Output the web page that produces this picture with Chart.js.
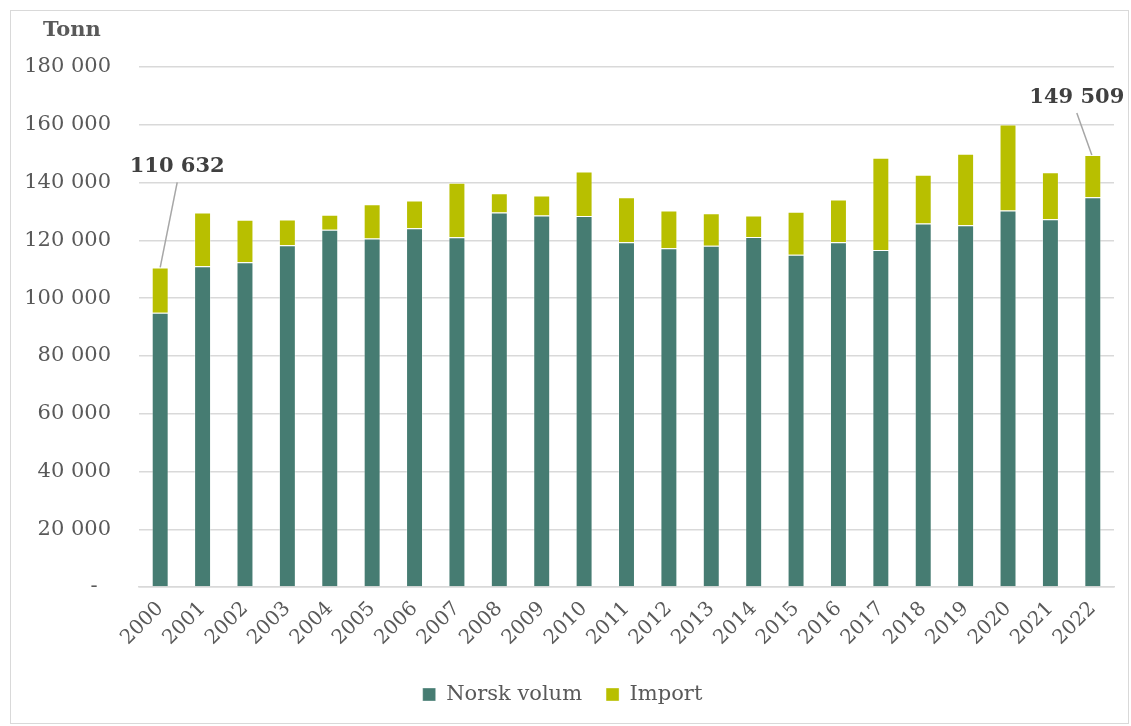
<!DOCTYPE html>
<html lang="no">
<head>
<meta charset="UTF-8">
<title>Norsk volum og import</title>
<script src="https://cdn.jsdelivr.net/npm/chart.js"></script>
<style>
    html, body {
        margin: 0;
        padding: 0;
        background: #ffffff;
    }
    .frame {
        position: absolute;
        left: 10px;
        top: 10px;
        width: 1119px;
        height: 714px;
        border: 1.5px solid #d9d9d9;
        box-sizing: border-box;
    }
</style>
</head>
<body>
<div class="frame">
    <canvas id="volumChart"></canvas>
</div>
<script>
    // Data (tonn)
    const years = ['2000', '2001', '2002', '2003', '2004', '2005', '2006', '2007', '2008', '2009', '2010', '2011',
        '2012', '2013', '2014', '2015', '2016', '2017', '2018', '2019', '2020', '2021', '2022'];
    const norskVolum = [94900, 111000, 112400, 118300, 123700, 120600, 124200, 121100, 129600, 128600, 128400, 119300,
        117300, 118100, 121200, 115000, 119300, 116700, 125800, 125200, 130300, 127300, 134900];
    const importVolum = [15732, 18600, 14700, 8900, 5200, 11900, 9600, 18800, 6700, 6900, 15400, 15600,
        13000, 11300, 7400, 14900, 14800, 31900, 16900, 24800, 29800, 16300, 14609];
    const yTicks = [0, 20000, 40000, 60000, 80000, 100000, 120000, 140000, 160000, 180000];
    const markedYears = ['2000', '2022'];

    const FONT = "'DejaVu Serif', Georgia, serif";
    const GREY = '#595959';

    function spaced(n) {
        return Math.round(n).toString().replace(/\B(?=(\d{3})+(?!\d))/g, ' ');
    }

    // Title "Tonn" and the two total labels with leader lines
    const labelPlugin = {
        id: 'labels',
        afterDraw(chart) {
            const ctx = chart.ctx;
            ctx.save();
            ctx.fillStyle = GREY;
            ctx.font = "bold 21px " + FONT;
            ctx.textAlign = 'center';
            ctx.textBaseline = 'middle';
            ctx.fillText('Tonn', 61, 20);

            const meta = chart.getDatasetMeta(1);
            const offsets = { '2000': [17, -85, 0, -16], '2022': [-16, -42, 0, -16] };
            markedYears.forEach(y => {
                const i = years.indexOf(y);
                const bar = meta.data[i];
                const total = norskVolum[i] + importVolum[i];
                const o = offsets[y];
                const x0 = bar.x + (y === '2000' ? 0 : -1), y0 = bar.y;
                const x1 = bar.x + o[0], y1 = bar.y + o[1];
                ctx.strokeStyle = '#a6a6a6';
                ctx.lineWidth = 1.5;
                ctx.beginPath();
                ctx.moveTo(x0, y0);
                ctx.lineTo(x1, y1);
                ctx.stroke();
                ctx.fillStyle = '#404040';
                ctx.font = "bold 21px " + FONT;
                ctx.fillText(spaced(total), x1, y1 + o[3]);
            });
            ctx.restore();
        }
    };

    const ctxVolum = document.getElementById('volumChart').getContext('2d');
    new Chart(ctxVolum, {
        type: 'bar',
        data: {
            labels: years,
            datasets: [{
                label: 'Norsk volum',
                data: norskVolum,
                backgroundColor: '#467c72',
                borderColor: 'rgba(255,255,255,0.35)',
                borderWidth: 1,
                categoryPercentage: 1,
                barPercentage: 0.4
            }, {
                label: 'Import',
                data: importVolum,
                backgroundColor: '#b8bf00',
                borderColor: 'rgba(255,255,255,0.35)',
                borderWidth: 1,
                categoryPercentage: 1,
                barPercentage: 0.4
            }]
        },
        options: {
            responsive: true,
            maintainAspectRatio: false,
            animation: false,
            layout: {
                padding: { top: 56, right: 14, bottom: 8, left: 0 }
            },
            scales: {
                x: {
                    stacked: true,
                    grid: { display: false, drawTicks: false },
                    border: { color: '#d9d9d9', width: 1.5 },
                    ticks: {
                        color: GREY,
                        font: { family: FONT, size: 20 },
                        minRotation: 45,
                        maxRotation: 45,
                        padding: 10
                    }
                },
                y: {
                    stacked: true,
                    min: 0,
                    max: 180000,
                    afterFit(scale) { scale.width = 128; },
                    afterBuildTicks(scale) { scale.ticks = yTicks.map(v => ({ value: v })); },
                    grid: { color: '#d9d9d9', lineWidth: 1.5, drawTicks: false },
                    border: { display: false },
                    ticks: {
                        color: GREY,
                        font: { family: FONT, size: 21 },
                        padding: 28,
                        callback: v => v === 0 ? '-\u00a0\u00a0' : spaced(v)
                    }
                }
            },
            plugins: {
                legend: {
                    position: 'bottom',
                    labels: {
                        color: GREY,
                        font: { family: FONT, size: 21 },
                        boxWidth: 13,
                        boxHeight: 13,
                        padding: 24
                    }
                },
                tooltip: { enabled: false }
            }
        },
        plugins: [labelPlugin]
    });
</script>
</body>
</html>
